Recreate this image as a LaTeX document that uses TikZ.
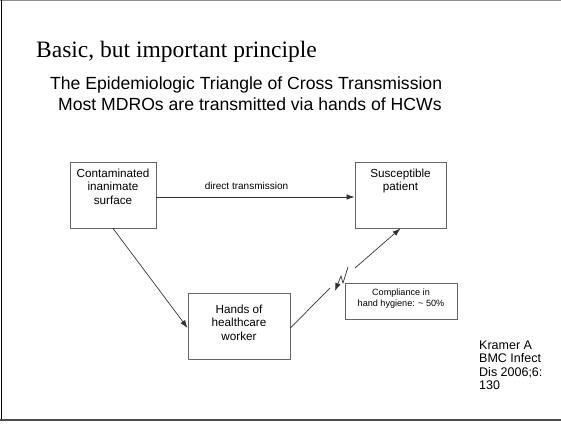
\documentclass[tikz,border=0pt]{standalone}
\usepackage{fontspec}
\setmainfont{Liberation Sans}
\newfontfamily\titlefont{Liberation Serif}
\usetikzlibrary{arrows.meta}
\begin{document}
\begin{tikzpicture}[x=1pt,y=-1pt,
  box/.style={draw=black!60, line width=0.8pt, inner sep=0pt},
  boxtext/.style={anchor=north, align=center, inner sep=0pt,
    font=\fontsize{11.7}{13.5}\selectfont},
  link/.style={draw=black!80, line width=0.7pt},
  tip/.style={-{Latex[length=8pt,width=5.5pt]}},
  heading/.style={anchor=base west, inner sep=0pt}
]
\useasboundingbox (0,0) rectangle (561,424);

% slide frame
\draw[black!45, line width=1pt] (0,0.5) -- (561,0.5);
\draw[black, line width=1.5pt] (1.5,0) -- (1.5,420);
\draw[black!70, line width=1.5pt] (0,420) -- (561,420);

% headings
\node[heading, font=\titlefont\fontsize{23.5}{28}\selectfont] (title) at (36,57)
  {Basic, but important principle};
\node[heading, font=\fontsize{17.6}{21}\selectfont] (sub1) at (50,89.5)
  {The Epidemiologic Triangle of Cross Transmission};
\node[heading, font=\fontsize{17.6}{21}\selectfont] (sub2) at (58,110.5)
  {Most MDROs are transmitted via hands of HCWs};

% the three corners of the triangle
\node[box, minimum width=86pt, minimum height=66pt] (cont) at (113,195) {};
\node[boxtext] (contlbl) at (113,168.5) {Contaminated\\inanimate\\surface};
\node[box, minimum width=91pt, minimum height=66pt] (susc) at (400.5,195) {};
\node[boxtext] (susclbl) at (400.5,168.5) {Susceptible\\patient};
\node[box, minimum width=102pt, minimum height=66pt] (hands) at (239,326) {};
\node[boxtext] (handslbl) at (239,304.5) {Hands of\\healthcare\\worker};

% compliance note
\node[box, minimum width=112pt, minimum height=36pt] (comp) at (401,301) {};
\node[boxtext, font=\fontsize{9.1}{11}\selectfont] (complbl) at (401,288.5)
  {Compliance in\\hand hygiene: \textasciitilde{} 50\%};

% reference
\node[anchor=north west, align=left, inner sep=0pt,
  font=\fontsize{12.5}{13.5}\selectfont] (cite) at (479,340.5)
  {Kramer A\\BMC Infect\\Dis 2006;6:\\130};

% direct route
\draw[link, tip] ([yshift=-2pt]cont.east) -- ([yshift=-2pt]susc.west);
\node[font=\fontsize{10}{12}\selectfont, inner sep=0pt] (dtlbl) at (246.5,186)
  {direct transmission};

% route via the hands, broken by a lightning bolt
\draw[link, tip] (cont.south) -- ([yshift=-2pt]hands.west);
\coordinate (gapA) at (330,288);
\coordinate (gapB) at (355,268);
\coordinate (bolt1) at (348,267);
\coordinate (bolt2) at (343,283);
\coordinate (bolt3) at (341,276);
\coordinate (bolt4) at (335,291);
\draw[link] ([yshift=-2pt]hands.east) -- (gapA);
\draw[link, tip] (bolt1) -- (bolt2) -- (bolt3) -- (bolt4);
\draw[link, tip] (gapB) -- (susc.south);
\end{tikzpicture}
\end{document}
